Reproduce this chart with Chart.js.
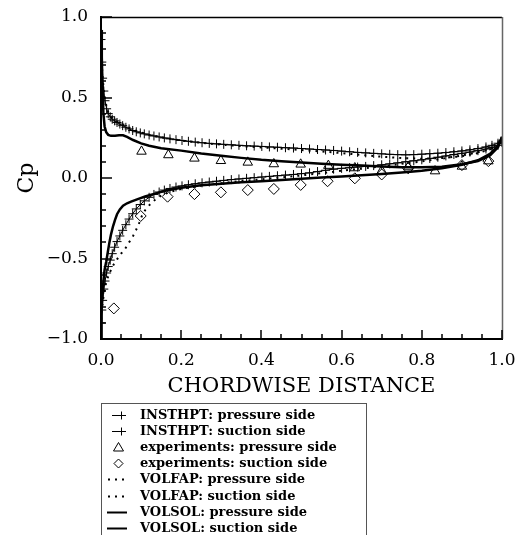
<!DOCTYPE html>
<html><head><meta charset="utf-8">
<script src="https://cdn.jsdelivr.net/npm/chart.js@4.4.0/dist/chart.umd.min.js"></script>
<style>html,body{margin:0;padding:0;background:#fff;}canvas{display:block;}</style>
</head><body>
<canvas id="c" width="528" height="535"></canvas>
<script>
const xTickLabels = ['0.0','0.2','0.4','0.6','0.8','1.0'];
const yTickLabels = ['\u22121.0','\u22120.5','0.0','0.5','1.0'];
const xTitle = 'CHORDWISE DISTANCE';
const yTitle = 'Cp';
const seriesLabels = [
  'INSTHPT: pressure side','INSTHPT: suction side',
  'experiments: pressure side','experiments: suction side',
  'VOLFAP: pressure side','VOLFAP: suction side',
  'VOLSOL: pressure side','VOLSOL: suction side'
];

const insthptX = [0.000,0.002,0.004,0.007,0.010,0.014,0.018,0.023,0.028,0.034,0.040,0.047,0.054,0.062,0.070,0.079,0.088,0.098,0.108,0.120,0.132,0.145,0.158,0.172,0.187,0.202,0.218,0.235,0.252,0.270,0.288,0.306,0.325,0.344,0.363,0.382,0.401,0.420,0.440,0.460,0.480,0.500,0.520,0.540,0.560,0.580,0.600,0.620,0.640,0.660,0.680,0.700,0.720,0.740,0.760,0.780,0.800,0.820,0.840,0.860,0.880,0.900,0.920,0.940,0.960,0.975,0.990,1.000];
const insthptPressureCp = [0.86,0.72,0.62,0.54,0.48,0.43,0.40,0.38,0.365,0.355,0.345,0.335,0.325,0.315,0.305,0.295,0.287,0.280,0.274,0.267,0.261,0.255,0.249,0.243,0.238,0.233,0.228,0.223,0.219,0.215,0.212,0.209,0.206,0.203,0.200,0.198,0.196,0.193,0.191,0.188,0.186,0.183,0.180,0.177,0.174,0.171,0.167,0.163,0.159,0.156,0.153,0.150,0.147,0.145,0.144,0.145,0.148,0.151,0.154,0.158,0.163,0.168,0.175,0.183,0.193,0.203,0.216,0.230];
const insthptSuctionCp = [-0.90,-0.82,-0.76,-0.69,-0.64,-0.59,-0.55,-0.51,-0.47,-0.43,-0.395,-0.36,-0.325,-0.29,-0.255,-0.222,-0.192,-0.165,-0.142,-0.120,-0.102,-0.087,-0.075,-0.065,-0.056,-0.049,-0.042,-0.036,-0.030,-0.025,-0.020,-0.015,-0.010,-0.006,-0.002,0.002,0.006,0.010,0.014,0.018,0.022,0.027,0.032,0.040,0.048,0.055,0.060,0.064,0.068,0.072,0.077,0.082,0.088,0.094,0.101,0.107,0.113,0.121,0.129,0.137,0.146,0.153,0.161,0.170,0.180,0.190,0.203,0.220];

const expPressureX = [0.101,0.168,0.233,0.299,0.366,0.431,0.498,0.567,0.633,0.700,0.766,0.833,0.900,0.966];
const expPressureCp = [0.165,0.143,0.122,0.107,0.097,0.087,0.085,0.077,0.062,0.045,0.068,0.043,0.072,0.105];
const expSuctionX = [0.032,0.099,0.166,0.233,0.299,0.366,0.431,0.498,0.565,0.633,0.700,0.766,0.900,0.966];
const expSuctionCp = [-0.81,-0.236,-0.116,-0.100,-0.089,-0.075,-0.068,-0.043,-0.020,-0.002,0.022,0.060,0.080,0.105];

const volfapPressureX = [0.000,0.003,0.007,0.012,0.018,0.025,0.035,0.050,0.070,0.090,0.120,0.150,0.200,0.250,0.300,0.350,0.400,0.450,0.500,0.550,0.600,0.650,0.700,0.750,0.800,0.850,0.900,0.940,0.970,1.000];
const volfapPressureCp = [0.85,0.66,0.54,0.46,0.41,0.38,0.355,0.335,0.31,0.29,0.268,0.253,0.233,0.218,0.207,0.198,0.190,0.182,0.174,0.165,0.155,0.143,0.132,0.124,0.120,0.124,0.135,0.155,0.178,0.21];
const volfapSuctionX = [0.000,0.003,0.007,0.012,0.018,0.025,0.032,0.040,0.050,0.060,0.070,0.080,0.088,0.095,0.102,0.110,0.120,0.135,0.150,0.170,0.200,0.250,0.300,0.350,0.400,0.450,0.500,0.550,0.600,0.650,0.700,0.750,0.800,0.850,0.900,0.940,0.970,1.000];
const volfapSuctionCp = [-0.88,-0.80,-0.72,-0.66,-0.61,-0.57,-0.535,-0.505,-0.47,-0.44,-0.40,-0.36,-0.32,-0.28,-0.235,-0.20,-0.17,-0.135,-0.11,-0.088,-0.068,-0.047,-0.032,-0.019,-0.008,0.004,0.016,0.030,0.045,0.058,0.072,0.088,0.103,0.120,0.140,0.160,0.180,0.21];

const volsolPressureX = [0.000,0.002,0.004,0.006,0.009,0.013,0.018,0.025,0.035,0.045,0.055,0.065,0.080,0.100,0.120,0.150,0.200,0.250,0.300,0.350,0.400,0.450,0.500,0.550,0.600,0.650,0.700,0.750,0.800,0.850,0.900,0.940,0.970,0.990,1.000];
const volsolPressureCp = [0.92,0.75,0.55,0.40,0.32,0.285,0.268,0.262,0.262,0.266,0.265,0.255,0.236,0.215,0.200,0.185,0.170,0.152,0.138,0.125,0.113,0.104,0.096,0.089,0.083,0.077,0.071,0.067,0.066,0.070,0.085,0.105,0.140,0.190,0.255];
const volsolSuctionX = [0.000,0.001,0.002,0.004,0.006,0.009,0.013,0.017,0.021,0.025,0.030,0.035,0.040,0.047,0.055,0.065,0.075,0.090,0.110,0.130,0.160,0.200,0.250,0.300,0.350,0.400,0.450,0.500,0.550,0.600,0.650,0.700,0.750,0.800,0.850,0.900,0.940,0.970,0.990,1.000];
const volsolSuctionCp = [-1.00,-0.90,-0.82,-0.72,-0.64,-0.57,-0.52,-0.46,-0.40,-0.35,-0.30,-0.26,-0.225,-0.195,-0.172,-0.157,-0.147,-0.133,-0.115,-0.100,-0.080,-0.060,-0.045,-0.035,-0.027,-0.020,-0.012,-0.004,0.003,0.010,0.017,0.025,0.034,0.045,0.060,0.082,0.110,0.150,0.200,0.255];

const zip = (xs, ys) => xs.map((x, i) => ({x: x, y: ys[i]}));
const SERIF = '"DejaVu Serif", serif';

const datasets = [
  {label: seriesLabels[0], data: zip(insthptX, insthptPressureCp), sym: 'cross', showLine: true, borderColor: '#000', borderWidth: 1, pointStyle: 'cross', pointRadius: 4.5, pointBorderWidth: 1, pointBorderColor: '#000'},
  {label: seriesLabels[1], data: zip(insthptX, insthptSuctionCp), sym: 'cross', showLine: true, borderColor: '#000', borderWidth: 1, pointStyle: 'cross', pointRadius: 4.5, pointBorderWidth: 1, pointBorderColor: '#000'},
  {label: seriesLabels[2], data: zip(expPressureX, expPressureCp), sym: 'triangle', showLine: false, pointStyle: 'triangle', pointRadius: 5.5, pointBorderWidth: 1, pointBorderColor: '#000', pointBackgroundColor: 'rgba(0,0,0,0)'},
  {label: seriesLabels[3], data: zip(expSuctionX, expSuctionCp), sym: 'diamond', showLine: false, pointStyle: 'rectRot', pointRadius: 5.5, pointBorderWidth: 1, pointBorderColor: '#000', pointBackgroundColor: 'rgba(0,0,0,0)'},
  {label: seriesLabels[4], data: zip(volfapPressureX, volfapPressureCp), sym: 'dots', showLine: true, borderColor: '#000', borderWidth: 2, borderDash: [2, 5], pointRadius: 0},
  {label: seriesLabels[5], data: zip(volfapSuctionX, volfapSuctionCp), sym: 'dots', showLine: true, borderColor: '#000', borderWidth: 2, borderDash: [2, 5], pointRadius: 0},
  {label: seriesLabels[6], data: zip(volsolPressureX, volsolPressureCp), sym: 'solid', showLine: true, borderColor: '#000', borderWidth: 2.5, pointRadius: 0},
  {label: seriesLabels[7], data: zip(volsolSuctionX, volsolSuctionCp), sym: 'solid', showLine: true, borderColor: '#000', borderWidth: 2.5, pointRadius: 0}
];

const framePlugin = {
  id: 'frameTicks',
  afterDraw(chart) {
    const ctx = chart.ctx, a = chart.chartArea;
    const xs = chart.scales.x, ys = chart.scales.y;
    ctx.save();
    ctx.setLineDash([]);
    ctx.strokeStyle = '#000';
    ctx.lineWidth = 1.5;
    ctx.beginPath(); ctx.moveTo(a.left, a.top + 0.5); ctx.lineTo(a.right, a.top + 0.5); ctx.stroke();
    ctx.strokeStyle = '#666';
    ctx.beginPath(); ctx.moveTo(a.right + 0.5, a.top); ctx.lineTo(a.right + 0.5, a.bottom); ctx.stroke();
    ctx.strokeStyle = '#000';
    ctx.lineWidth = 1.5;
    for (let i = 0; i <= 20; i++) {
      const v = i / 20;
      const px = Math.round(xs.getPixelForValue(v));
      const len = (i % 4 === 0) ? 9 : 5;
      ctx.beginPath(); ctx.moveTo(px, a.bottom); ctx.lineTo(px, a.bottom - len); ctx.stroke();
    }
    for (let i = 0; i <= 20; i++) {
      const v = -1 + i / 10;
      const py = Math.round(ys.getPixelForValue(v));
      const len = (i % 5 === 0) ? 11 : 5;
      ctx.beginPath(); ctx.moveTo(a.left, py); ctx.lineTo(a.left + len, py); ctx.stroke();
    }
    ctx.restore();
  }
};

const legendPlugin = {
  id: 'boxLegend',
  afterDraw(chart) {
    const ctx = chart.ctx;
    ctx.save();
    ctx.setLineDash([]);
    ctx.strokeStyle = '#555';
    ctx.lineWidth = 1;
    ctx.strokeRect(101.5, 403.5, 265, 150);
    ctx.font = 'bold 13px ' + SERIF;
    ctx.textBaseline = 'middle';
    ctx.textAlign = 'left';
    ctx.fillStyle = '#000';
    ctx.strokeStyle = '#000';
    chart.data.datasets.forEach((ds, i) => {
      const y = Math.round(415 + i * 16.1) + 0.5;
      ctx.lineWidth = 1;
      if (ds.sym === 'cross') {
        ctx.beginPath(); ctx.moveTo(112, y); ctx.lineTo(126, y); ctx.stroke();
        ctx.beginPath(); ctx.moveTo(121.5, y - 4); ctx.lineTo(121.5, y + 4); ctx.stroke();
      } else if (ds.sym === 'triangle') {
        ctx.beginPath(); ctx.moveTo(118.5, y - 5); ctx.lineTo(113.5, y + 3.5); ctx.lineTo(123.5, y + 3.5); ctx.closePath(); ctx.stroke();
      } else if (ds.sym === 'diamond') {
        ctx.beginPath(); ctx.moveTo(118.5, y - 4.5); ctx.lineTo(123, y); ctx.lineTo(118.5, y + 4.5); ctx.lineTo(114, y); ctx.closePath(); ctx.stroke();
      } else if (ds.sym === 'dots') {
        [108, 115, 122].forEach(dx => ctx.fillRect(dx, y - 1, 2, 2));
      } else if (ds.sym === 'solid') {
        ctx.lineWidth = 2;
        ctx.beginPath(); ctx.moveTo(107, y); ctx.lineTo(127, y); ctx.stroke();
      }
      ctx.fillText(ds.label, 140, y);
    });
    ctx.restore();
  }
};

new Chart(document.getElementById('c'), {
  type: 'scatter',
  data: {datasets: datasets},
  plugins: [framePlugin, legendPlugin],
  options: {
    responsive: false,
    animation: false,
    devicePixelRatio: 1,
    layout: {padding: {left: 0, right: 26, top: 17, bottom: 136}},
    plugins: {legend: {display: false}, tooltip: {enabled: false}},
    scales: {
      x: {
        type: 'linear', min: 0, max: 1,
        afterFit: s => { s.height = 60; s.paddingLeft = 0; s.paddingRight = 0; },
        grid: {display: false, drawTicks: false},
        border: {display: true, color: '#000', width: 2},
        ticks: {stepSize: 0.2, padding: 11, color: '#000', font: {family: SERIF, size: 17},
          callback: (v, i) => xTickLabels[i]},
        title: {display: true, text: xTitle, color: '#000', font: {family: SERIF, size: 21}, padding: {top: 0, bottom: 0}}
      },
      y: {
        type: 'linear', min: -1, max: 1,
        afterFit: s => { s.width = 101; s.paddingTop = 0; s.paddingBottom = 0; },
        grid: {display: false, drawTicks: false},
        border: {display: true, color: '#000', width: 2},
        ticks: {stepSize: 0.5, padding: 13, color: '#000', font: {family: SERIF, size: 17},
          callback: (v, i) => yTickLabels[i]},
        title: {display: true, text: yTitle, color: '#000', font: {family: SERIF, size: 22}, padding: {top: 14, bottom: 0}}
      }
    }
  }
});
</script>
</body></html>
